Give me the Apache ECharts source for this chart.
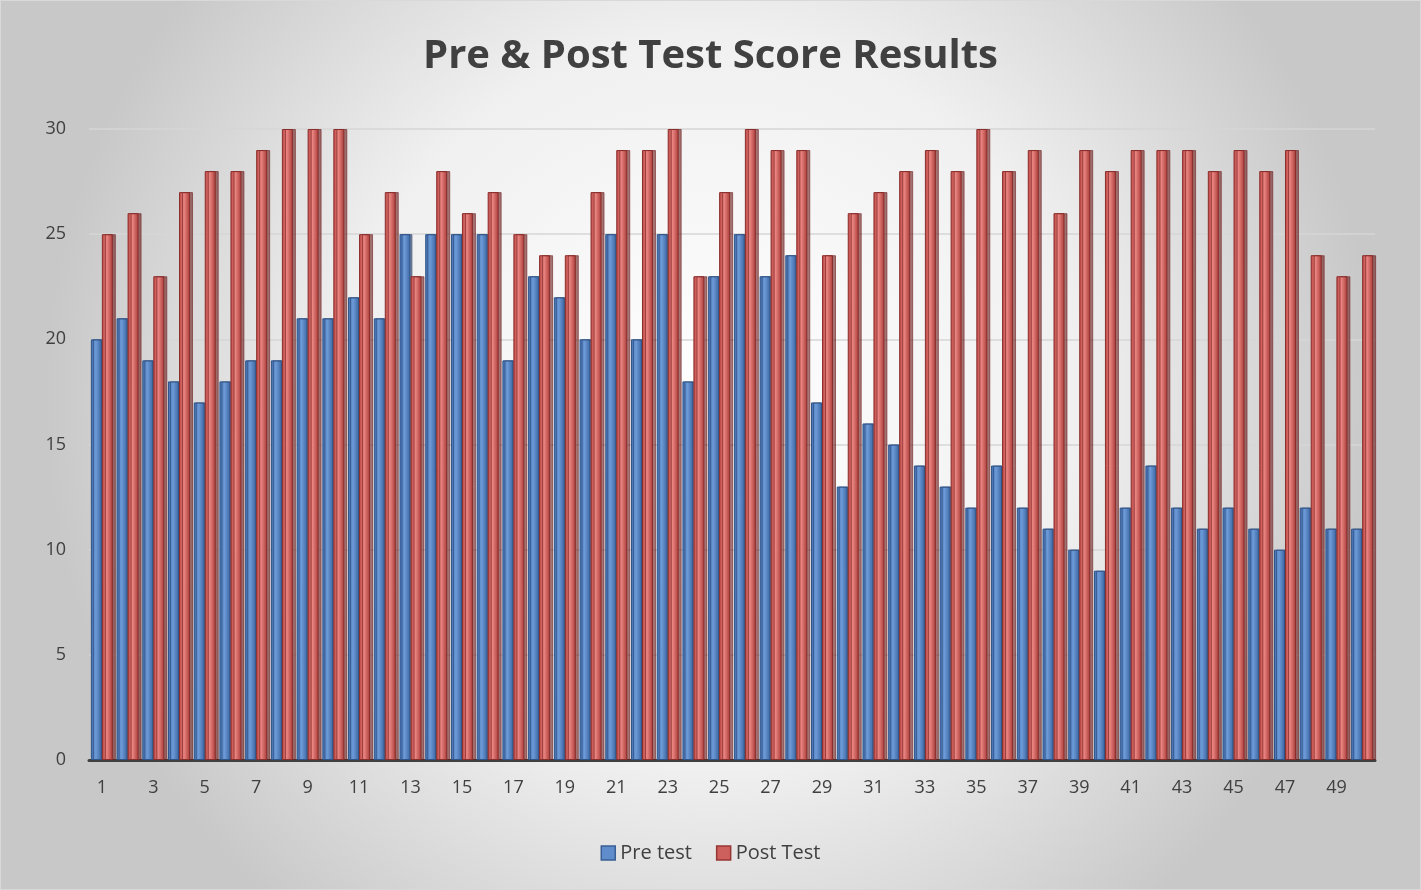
<!DOCTYPE html>
<html>
<head>
<meta charset="utf-8">
<script src="https://cdn.jsdelivr.net/npm/echarts@6/dist/echarts.min.js"></script>
<style>
html,body{margin:0;padding:0;background:#fff;}
#chart{width:1421px;height:890px;box-sizing:border-box;border:1px solid #d9d9d9;}
</style>
</head>
<body>
<div id="chart"></div>
<script>
const categories = ['1','2','3','4','5','6','7','8','9','10','11','12','13','14','15','16','17','18','19','20','21','22','23','24','25','26','27','28','29','30','31','32','33','34','35','36','37','38','39','40','41','42','43','44','45','46','47','48','49','50'];
const preTest = [20,21,19,18,17,18,19,19,21,21,22,21,25,25,25,25,19,23,22,20,25,20,25,18,23,25,23,24,17,13,16,15,14,13,12,14,12,11,10,9,12,14,12,11,12,11,10,12,11,11];
const postTest = [25,26,23,27,28,28,29,30,30,30,25,27,23,28,26,27,25,24,24,27,29,29,30,23,27,30,29,29,24,26,27,28,29,28,30,28,29,26,29,28,29,29,29,28,29,28,29,24,23,24];
const seriesNames = ['Pre test','Post Test'];
const yTicks = {min:0, max:30, interval:5};

const chart = echarts.init(document.getElementById('chart'), null, {renderer:'canvas'});

function hGrad(a,b,c){
  return {type:'linear',x:0,y:0,x2:1,y2:0,colorStops:[{offset:0,color:a},{offset:0.45,color:b},{offset:1,color:c}]};
}

const option = {
  backgroundColor: {type:'radial', x:0.5, y:0.45, r:0.75,
    colorStops:[{offset:0,color:'#ffffff'},{offset:0.55,color:'#f0f0f0'},{offset:1,color:'#c8c8c8'}]},
  animation:false,
  title:{
    text:'Pre & Post Test Score Results',
    left:'center', top:31,
    textStyle:{fontFamily:'Open Sans', fontWeight:'bold', fontSize:40, color:'#404040'}
  },
  legend:{
    bottom:21, left:'center',
    itemWidth:14, itemHeight:14, itemGap:24,
    icon:'rect',
    textStyle:{fontFamily:'Open Sans', fontSize:20, color:'#404040'},
    data:[
      {name:seriesNames[0], itemStyle:{color:'#5f8ccb', borderColor:'#3a5f95', borderWidth:1.5}},
      {name:seriesNames[1], itemStyle:{color:'#cd5f5c', borderColor:'#963634', borderWidth:1.5}}
    ]
  },
  grid:{left:88, right:45, top:128, bottom:129, containLabel:false},
  xAxis:{
    type:'category', data:categories,
    axisLine:{show:true, lineStyle:{color:'#404040', width:3}},
    axisTick:{show:false},
    axisLabel:{interval:1, color:'#404040', fontFamily:'Open Sans', fontSize:18, margin:19}
  },
  yAxis:{
    type:'value', min:yTicks.min, max:yTicks.max, interval:yTicks.interval,
    axisLine:{show:false}, axisTick:{show:false},
    splitLine:{lineStyle:{color:'#d6d6d6', width:1.5}},
    axisLabel:{color:'#404040', fontFamily:'Open Sans', fontSize:18, margin:23}
  },
  series:[
    {name:seriesNames[0], type:'bar', data:preTest, barWidth:11, barGap:'0%',
      itemStyle:{color:hGrad('#3e6db0','#6d9bd8','#3a64a0'), borderColor:'#2f5487', borderWidth:1,
        shadowColor:'rgba(40,60,100,0.55)', shadowOffsetX:2, shadowOffsetY:0, shadowBlur:0}},
    {name:seriesNames[1], type:'bar', data:postTest, barWidth:11,
      itemStyle:{color:hGrad('#b9423f','#ea8581','#a83a37'), borderColor:'#8a2e2c', borderWidth:1,
        shadowColor:'rgba(110,30,30,0.6)', shadowOffsetX:3, shadowOffsetY:0, shadowBlur:0}}
  ]
};
chart.setOption(option);
</script>
</body>
</html>
